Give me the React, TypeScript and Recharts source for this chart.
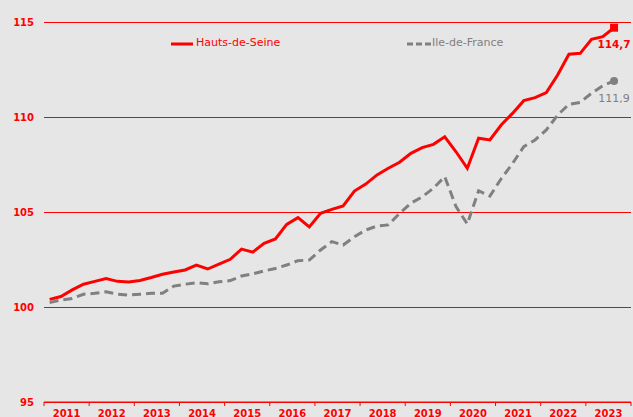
import React from "react";
import { LineChart, Line, XAxis, YAxis, CartesianGrid, Legend } from "recharts";

const years = ["2011", "2012", "2013", "2014", "2015", "2016", "2017", "2018", "2019", "2020", "2021", "2022", "2023"];

const hautsDeSeine = [
  100.4, 100.55, 100.9, 101.2, 101.35, 101.5, 101.35, 101.32, 101.4, 101.55,
  101.72, 101.84, 101.95, 102.2, 102.0, 102.26, 102.51, 103.05, 102.89, 103.35,
  103.58, 104.35, 104.7, 104.21, 104.93, 105.14, 105.32, 106.1, 106.47, 106.95,
  107.3, 107.62, 108.09, 108.39, 108.56, 108.96, 108.17, 107.3, 108.88, 108.79,
  109.58, 110.19, 110.86, 111.02, 111.28, 112.21, 113.3, 113.35, 114.09, 114.23,
  114.7,
];

const ileDeFrance = [
  100.23, 100.37, 100.45, 100.67, 100.72, 100.8, 100.68, 100.63, 100.67, 100.72,
  100.72, 101.1, 101.2, 101.28, 101.22, 101.33, 101.39, 101.63, 101.74, 101.9,
  102.03, 102.21, 102.44, 102.47, 103.0, 103.44, 103.26, 103.7, 104.05, 104.26,
  104.32, 104.93, 105.46, 105.8, 106.25, 106.86, 105.28, 104.37, 106.12, 105.84,
  106.75, 107.55, 108.44, 108.79, 109.32, 110.1, 110.67, 110.77, 111.25, 111.65,
  111.9,
];

const yTicks = [95, 100, 105, 110, 115];
const quartersPerYear = 4;
const lastIndex = hautsDeSeine.length - 1;

const data = hautsDeSeine.map((v, i) => ({
  x: i + 0.5,
  label: `${years[Math.floor(i / quartersPerYear)]}T${(i % quartersPerYear) + 1}`,
  hds: v,
  idf: ileDeFrance[i],
}));

const xTicks = years.map((_, i) => i * quartersPerYear).concat([years.length * quartersPerYear]);

const FONT = "DejaVu Sans, Verdana, sans-serif";
const RED = "#ff0000";
const GRAY = "#808080";

const YearTick = (props: any) => {
  const { x, y, payload } = props;
  const idx = Math.round(payload.value / quartersPerYear);
  if (idx >= years.length) return <g />;
  return (
    <text x={x + 22.6} y={y} dy={9} textAnchor="middle" fill={RED} fontFamily={FONT} fontSize={10} fontWeight="bold">
      {years[idx]}
    </text>
  );
};

const LegendContent = () => (
  <div style={{ position: "relative", width: 633, height: 14, fontFamily: FONT, fontSize: 11, lineHeight: "14px" }}>
    <svg style={{ position: "absolute", left: 170, top: 5 }} width={24} height={6}>
      <line x1={1} y1={3} x2={23} y2={3} stroke={RED} strokeWidth={3} />
    </svg>
    <span style={{ position: "absolute", left: 196, top: 0, color: RED, whiteSpace: "nowrap" }}>Hauts-de-Seine</span>
    <svg style={{ position: "absolute", left: 407, top: 5 }} width={25} height={6}>
      <line x1={0} y1={3} x2={25} y2={3} stroke={GRAY} strokeWidth={3} strokeDasharray="6 3" />
    </svg>
    <span style={{ position: "absolute", left: 432, top: 0, color: GRAY, whiteSpace: "nowrap" }}>Ile-de-France</span>
  </div>
);

const redDot = (props: any) => {
  const { cx, cy, index } = props;
  if (index !== lastIndex) return <g key={`rd${index}`} />;
  return <rect key={`rd${index}`} x={cx - 4} y={cy - 4} width={8} height={8} fill={RED} />;
};

const grayDot = (props: any) => {
  const { cx, cy, index } = props;
  if (index !== lastIndex) return <g key={`gd${index}`} />;
  return <circle key={`gd${index}`} cx={cx} cy={cy} r={4} fill={GRAY} />;
};

const redLabel = (props: any) => {
  const { x, y, index, value } = props;
  if (index !== lastIndex) return <g key={`rl${index}`} />;
  return (
    <text key={`rl${index}`} x={x} y={y + 20} textAnchor="middle" fill={RED} fontFamily={FONT} fontSize={10.5} fontWeight="bold">
      {String(value).replace(".", ",")}
    </text>
  );
};

const grayLabel = (props: any) => {
  const { x, y, index, value } = props;
  if (index !== lastIndex) return <g key={`gl${index}`} />;
  return (
    <text key={`gl${index}`} x={x} y={y + 21} textAnchor="middle" fill={GRAY} fontFamily={FONT} fontSize={11}>
      {String(value).replace(".", ",")}
    </text>
  );
};

export default function App() {
  return (
    <div style={{ position: "absolute", left: 0, top: 0, width: 633, height: 417, background: "#e6e6e6", overflow: "hidden" }}>
      <LineChart width={633} height={417} data={data} margin={{ top: 22, right: 2, left: 0, bottom: 0 }}>
        <CartesianGrid horizontal={true} vertical={false} stroke={RED} strokeWidth={1} shapeRendering="crispEdges" />
        <XAxis
          dataKey="x"
          type="number"
          domain={[0, years.length * quartersPerYear]}
          ticks={xTicks}
          interval={0}
          height={15}
          tick={<YearTick />}
          tickSize={4}
          tickLine={{ stroke: RED }}
          axisLine={{ stroke: RED }}
        />
        <YAxis
          type="number"
          domain={[95, 115]}
          ticks={yTicks}
          width={44}
          axisLine={false}
          tickLine={false}
          tickMargin={4}
          tick={{ fill: RED, fontFamily: FONT, fontSize: 10, fontWeight: "bold" }}
        />
        <Legend
          layout="horizontal"
          verticalAlign="middle"
          align="center"
          content={<LegendContent />}
          wrapperStyle={{ top: 36, left: 0, width: 633 }}
        />
        <Line
          type="linear"
          dataKey="idf"
          name="Ile-de-France"
          stroke={GRAY}
          strokeWidth={3}
          strokeDasharray="9 5"
          dot={grayDot}
          label={grayLabel}
          isAnimationActive={false}
        />
        <Line
          type="linear"
          dataKey="hds"
          name="Hauts-de-Seine"
          stroke={RED}
          strokeWidth={3}
          dot={redDot}
          label={redLabel}
          isAnimationActive={false}
        />
      </LineChart>
    </div>
  );
}
